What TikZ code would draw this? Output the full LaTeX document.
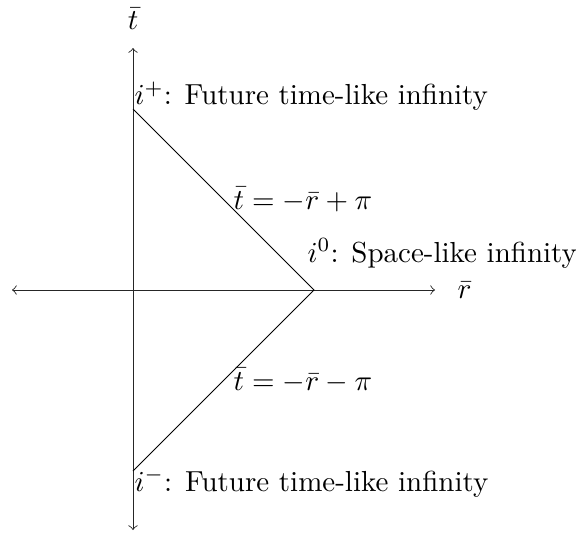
\documentclass[tikz,border=0pt]{standalone}
\begin{document}
\begin{tikzpicture}[x=0.345pt,y=-0.345pt,
  axis/.style={<->, line width=0.3pt, draw=black!85},
  cone/.style={line width=0.3pt},
  lbl/.style={inner sep=0pt, anchor=base west}]
\useasboundingbox (0,0) rectangle (576,536);
\coordinate (O) at (133,290);
\coordinate (L) at (12,290);
\coordinate (R) at (435,290);
\coordinate (T) at (133,48);
\coordinate (B) at (133,530);
\coordinate (ip) at (133,109);
\coordinate (iz) at (314,290);
\coordinate (im) at (133,471);
\draw[axis] (L) -- (R);
\draw[axis] (B) -- (T);
\draw[cone] (ip) -- node[right] (up) {$\bar t = -\bar r + \pi$} (iz)
  -- node[right] (dn) {$\bar t = -\bar r - \pi$} (im);
\node (tlab) at (133,19) {$\bar t$};
\node[lbl] (rlab) at (457,298) {$\bar r$};
\node[lbl] (iplab) at (134,105) {$i^+$: Future time-like infinity};
\node[lbl] (izlab) at (307,262) {$i^0$: Space-like infinity};
\node[lbl] (imlab) at (134,491) {$i^-$: Future time-like infinity};
\end{tikzpicture}
\end{document}
